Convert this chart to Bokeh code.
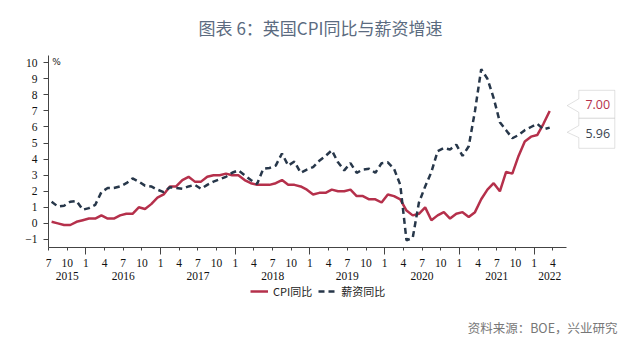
from bokeh.plotting import figure
from bokeh.models import (Range1d, FixedTicker, LinearAxis, Label, Legend,
                          LegendItem, ColumnDataSource, PolyAnnotation)
from bokeh.embed import file_html
from bokeh.resources import INLINE

# ---------------- data (monthly, Jul 2015 .. Mar 2022) ----------------
start_month = 7
cpi = [0.1, 0.0, -0.1, -0.1, 0.1, 0.2,
       0.3, 0.3, 0.5, 0.3, 0.3, 0.5, 0.6, 0.6, 1.0, 0.9, 1.2, 1.6,
       1.8, 2.3, 2.3, 2.7, 2.9, 2.6, 2.6, 2.9, 3.0, 3.0, 3.1, 3.0,
       3.0, 2.7, 2.5, 2.4, 2.4, 2.4, 2.5, 2.7, 2.4, 2.4, 2.3, 2.1,
       1.8, 1.9, 1.9, 2.1, 2.0, 2.0, 2.1, 1.7, 1.7, 1.5, 1.5, 1.3,
       1.8, 1.7, 1.5, 0.8, 0.5, 0.6, 1.0, 0.2, 0.5, 0.7, 0.3, 0.6,
       0.7, 0.4, 0.7, 1.5, 2.1, 2.5, 2.0, 3.2, 3.1, 4.2, 5.1, 5.4,
       5.5, 6.2, 7.0]
wages = [1.35, 1.05, 1.1, 1.35, 1.4, 0.85,
         0.95, 1.15, 1.95, 2.2, 2.2, 2.3, 2.5, 2.8, 2.6, 2.35, 2.3, 2.1,
         1.95, 2.25, 2.2, 2.15, 2.3, 2.4, 2.15, 2.4, 2.6, 2.75, 2.9, 3.15,
         3.3, 3.0, 2.7, 2.45, 3.4, 3.45, 3.6, 4.35, 3.6, 3.85, 3.15, 3.35,
         3.5, 3.9, 4.2, 4.55, 3.8, 3.3, 3.75, 3.15, 3.35, 3.4, 3.15, 3.75,
         3.8, 3.4, 2.4, -1.05, -0.9, 1.3, 2.3, 3.2, 4.5, 4.7, 4.6, 4.9,
         4.2, 4.8, 7.0, 9.6, 9.0, 7.8, 6.3, 5.8, 5.3, 5.5, 5.8, 6.0,
         6.2, 5.85, 5.96]
series_names = ["CPI同比", "薪资同比"]
last_labels = ["7.00", "5.96"]

tick_pos = list(range(0, 82, 3))
tick_labels = {p: str((start_month - 1 + p) % 12 + 1) for p in tick_pos}
jan_pos = [p for p in tick_pos if tick_labels[p] == "1"]
years = ["2015", "2016", "2017", "2018", "2019", "2020", "2021", "2022"]
year_pos = [3, 12, 24, 36, 48, 60, 72, 80.5]
y_ticks = list(range(-1, 11))
x_bounds = (0, 83.2)
y_bounds = (-1.5, 10.45)

title_text = "图表 6：英国CPI同比与薪资增速"
source_text = "资料来源：BOE，兴业研究"

RED = "#b5304b"
NAVY = "#27374a"

# ---------------- layout helpers ----------------
W, H = 640, 352
AX_L, AX_B = 48, 247          # pixel position of the axes corner
KX = 518 / (x_bounds[1] - x_bounds[0])   # px per month
KY = 192 / (y_bounds[1] - y_bounds[0])   # px per percentage point


def px2x(px):
    return x_bounds[0] + (px - AX_L) / KX


def py2y(py):
    return y_bounds[0] + (AX_B - py) / KY


def y2py(y):
    return AX_B - (y - y_bounds[0]) * KY


p = figure(width=W, height=H,
           x_range=Range1d(px2x(0), px2x(W)), y_range=Range1d(py2y(H), py2y(0)),
           output_backend="svg", toolbar_location=None,
           x_axis_type=None, y_axis_type=None,
           min_border_left=0, min_border_right=0, min_border_top=0, min_border_bottom=0)
p.outline_line_color = None
p.grid.visible = False
p.background_fill_color = "white"
p.border_fill_color = "white"

xs = [i + 0.5 for i in range(len(cpi))]
src = ColumnDataSource(dict(x=xs, cpi=cpi, wages=wages))
r1 = p.line("x", "cpi", source=src, line_color=RED, line_width=2.5)
r2 = p.line("x", "wages", source=src, line_color=NAVY, line_width=2.5, line_dash="6 4")

# axes (fixed in data space, so that titles/callouts can live inside the frame)
yaxis = LinearAxis(ticker=FixedTicker(ticks=y_ticks), fixed_location=x_bounds[0],
                   bounds=y_bounds)
yaxis.axis_line_color = "#444"
yaxis.major_tick_line_color = "#444"
yaxis.major_tick_out = 5
yaxis.major_tick_in = 0
yaxis.minor_tick_line_color = None
yaxis.major_label_standoff = 6
yaxis.major_label_text_font = "Liberation Serif"
yaxis.major_label_text_font_size = "11.5px"
yaxis.major_label_text_color = "#111"
p.add_layout(yaxis, "left")

xaxis = LinearAxis(ticker=FixedTicker(ticks=tick_pos, minor_ticks=jan_pos),
                   fixed_location=y_bounds[0], bounds=x_bounds)
xaxis.major_label_overrides = tick_labels
xaxis.axis_line_color = "#444"
xaxis.major_tick_line_color = "#444"
xaxis.minor_tick_line_color = "#444"
xaxis.major_tick_out = 3
xaxis.major_tick_in = 0
xaxis.minor_tick_out = 7
xaxis.minor_tick_in = 0
xaxis.major_label_standoff = 4
xaxis.major_label_text_font = "Liberation Serif"
xaxis.major_label_text_font_size = "11.5px"
xaxis.major_label_text_color = "#111"
p.add_layout(xaxis, "below")

year_axis = LinearAxis(ticker=FixedTicker(ticks=year_pos, minor_ticks=[]),
                       fixed_location=y_bounds[0], bounds=x_bounds)
year_axis.major_label_overrides = {yp: yl for yp, yl in zip(year_pos, years)}
year_axis.axis_line_color = None
year_axis.major_tick_line_color = None
year_axis.minor_tick_line_color = None
year_axis.major_tick_out = 0
year_axis.major_tick_in = 0
year_axis.major_label_standoff = 24
year_axis.major_label_text_font = "Liberation Serif"
year_axis.major_label_text_font_size = "11.5px"
year_axis.major_label_text_color = "#111"
p.add_layout(year_axis, "below")

# legend (screen px relative to the frame's bottom-left corner)
legend = Legend(items=[LegendItem(label=series_names[0], renderers=[r1]),
                       LegendItem(label=series_names[1], renderers=[r2])],
                orientation="horizontal", location=(250, H - 299),
                border_line_color=None, background_fill_alpha=0,
                label_text_font="Noto Sans CJK SC", label_text_font_size="11px",
                label_text_color="#222", glyph_width=18, glyph_height=14,
                label_height=14, label_standoff=5, spacing=6, margin=0, padding=2)
p.add_layout(legend, "center")

# title, unit, source
p.add_layout(Label(x=px2x(320), y=py2y(27), text=title_text, text_align="center",
                   text_baseline="middle", text_font="Noto Sans CJK SC",
                   text_font_size="17px", text_color="#5b6b80"))
p.add_layout(Label(x=px2x(56), y=py2y(61), text="%", text_align="center",
                   text_baseline="middle", text_font="DejaVu Sans",
                   text_font_size="9px", text_color="#222"))
p.add_layout(Label(x=px2x(617), y=py2y(327), text=source_text, text_align="right",
                   text_baseline="middle", text_font="Noto Sans CJK SC",
                   text_font_size="12.5px", text_color="#777"))

# end-of-line callouts
mid = (y2py(cpi[-1]) + y2py(wages[-1])) / 2 - 1
bx0, bx1, tipx = 578.3, 614.3, 566.7
boxes = [
    (mid - 28, mid, mid - 19.5, mid - 12.7, mid - 6, RED),
    (mid, mid + 30, mid + 7.3, mid + 14, mid + 19.3, "#3a4450"),
]
for (top, bot, n1, tip, n2, col), txt in zip(boxes, last_labels):
    pxs = [bx0, bx1, bx1, bx0, bx0, tipx, bx0]
    pys = [top, top, bot, bot, n2, tip, n1]
    p.add_layout(PolyAnnotation(xs=[px2x(v) for v in pxs], ys=[py2y(v) for v in pys],
                                xs_units="data", ys_units="data",
                                fill_color="white", fill_alpha=1,
                                line_color="#9a9a9a", line_width=1))
    p.add_layout(Label(x=px2x((bx0 + bx1) / 2 + 1), y=py2y((top + bot) / 2), text=txt,
                       text_align="center", text_baseline="middle",
                       text_font="Open Sans", text_font_size="12.5px", text_color=col))

open("out.html", "w").write(file_html(p, INLINE))
